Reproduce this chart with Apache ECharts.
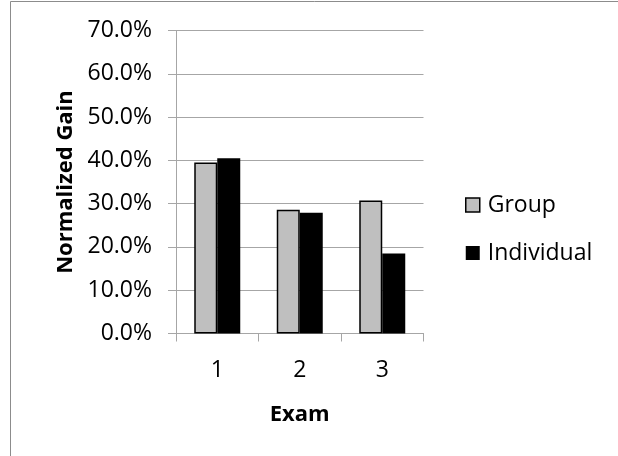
<!DOCTYPE html>
<html>
<head>
<meta charset="utf-8">
<script src="https://cdn.jsdelivr.net/npm/echarts@6/dist/echarts.min.js"></script>
<style>
  html, body { margin: 0; padding: 0; background: #fff; }
  #chart { width: 618px; height: 456px; }
</style>
</head>
<body>
<div id="chart"></div>
<script>
// Normalized gain per exam, in percent
const exams = ['1', '2', '3'];
const groupGain = [39.5, 28.6, 30.7];
const individualGain = [40.5, 27.9, 18.5];
const yTicks = [0, 10, 20, 30, 40, 50, 60, 70];

const FONT = '"Open Sans", "Noto Sans", sans-serif';
const chart = echarts.init(document.getElementById('chart'), null, { renderer: 'canvas' });

chart.setOption({
  backgroundColor: '#ffffff',
  animation: false,
  textStyle: { fontFamily: FONT },
  graphic: [{
    type: 'polyline',
    shape: { points: [[10.5, 470], [10.5, 1.5], [640, 1.5]] },
    style: { stroke: '#8c8c8c', lineWidth: 1, fill: null },
    silent: true
  }],
  grid: { left: 176, right: 194.5, top: 30.5, bottom: 122.5, containLabel: false },
  legend: {
    orient: 'vertical',
    left: 460,
    top: 188.5,
    itemWidth: 14,
    itemHeight: 14,
    itemGap: 25,
    icon: 'rect',
    textStyle: { fontFamily: FONT, fontSize: 23, color: '#000', padding: [0, 0, 0, 3] },
    data: [
      { name: 'Group', itemStyle: { color: '#bfbfbf', borderColor: '#000', borderWidth: 1.5 } },
      { name: 'Individual', itemStyle: { color: '#000' } }
    ]
  },
  xAxis: {
    type: 'category',
    data: exams,
    name: 'Exam',
    nameLocation: 'middle',
    nameGap: 70,
    nameTextStyle: { fontFamily: FONT, fontSize: 22, fontWeight: 'bold', color: '#000' },
    axisLine: { lineStyle: { color: '#a6a6a6', width: 1 } },
    axisTick: { show: true, length: 8, lineStyle: { color: '#a6a6a6' } },
    axisLabel: { fontFamily: FONT, fontSize: 23, color: '#000', margin: 25 }
  },
  yAxis: {
    type: 'value',
    min: yTicks[0],
    max: yTicks[yTicks.length - 1],
    interval: 10,
    name: 'Normalized Gain',
    nameLocation: 'middle',
    nameGap: 99,
    nameTextStyle: { fontFamily: FONT, fontSize: 22, fontWeight: 'bold', color: '#000' },
    axisLine: { show: true, lineStyle: { color: '#a6a6a6', width: 1 } },
    axisTick: { show: true, length: 8, lineStyle: { color: '#a6a6a6' } },
    axisLabel: {
      fontFamily: FONT, fontSize: 23, color: '#000', margin: 24,
      formatter: v => v.toFixed(1) + '%'
    },
    splitLine: { show: true, lineStyle: { color: '#a6a6a6', width: 1 } }
  },
  series: [
    {
      name: 'Group',
      type: 'bar',
      data: groupGain,
      barWidth: 23,
      barGap: '0%',
      itemStyle: { color: '#bfbfbf', borderColor: '#000', borderWidth: 1.5 }
    },
    {
      name: 'Individual',
      type: 'bar',
      data: individualGain,
      barWidth: 23,
      barGap: '0%',
      itemStyle: { color: '#000' }
    }
  ]
});
</script>
</body>
</html>
